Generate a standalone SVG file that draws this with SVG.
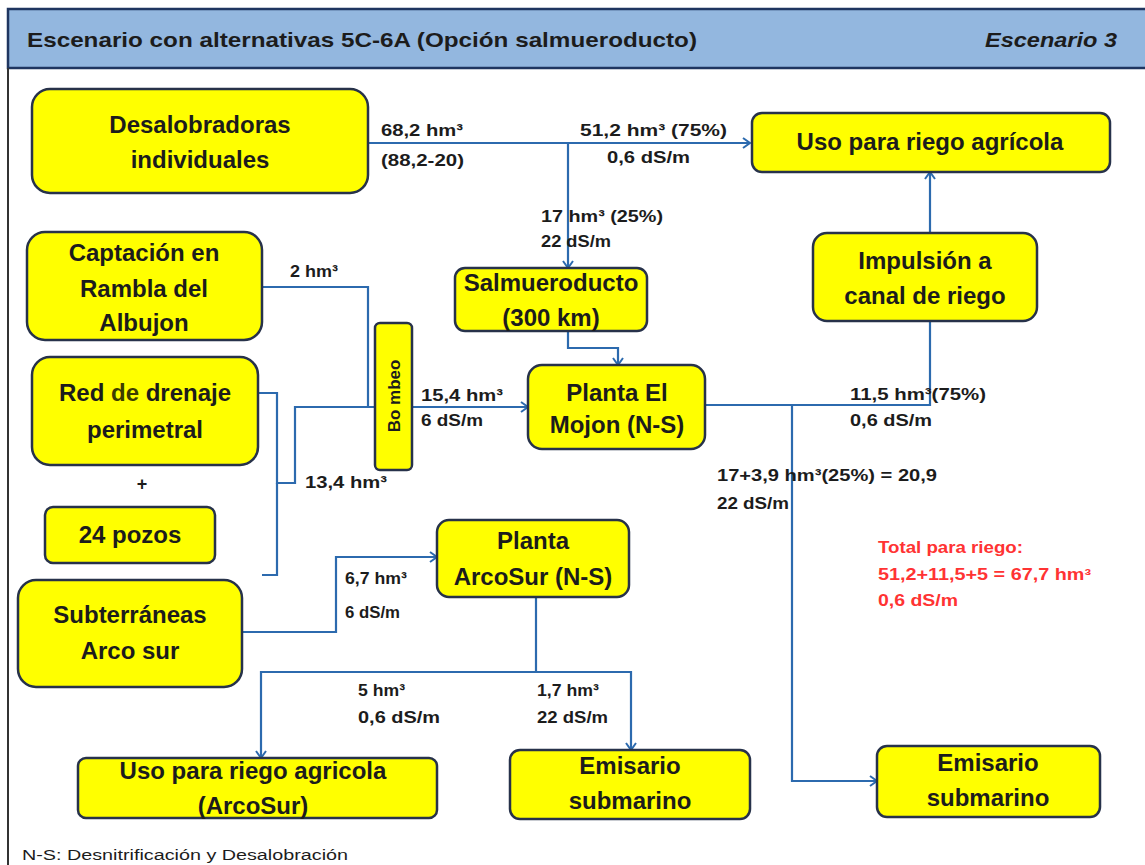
<svg xmlns="http://www.w3.org/2000/svg" width="1145" height="865" viewBox="0 0 1145 865">
<style>
.box{fill:#ffff00;stroke:#27324a;stroke-width:2.5}
.nt{font-family:"Liberation Sans",Arial,sans-serif;font-weight:bold;font-size:24px;fill:#1c1c1c;text-anchor:middle}
.lb{font-family:"Liberation Sans",Arial,sans-serif;font-weight:bold;font-size:17px;fill:#1c1c1c}
.red{font-family:"Liberation Sans",Arial,sans-serif;font-weight:bold;font-size:16px;fill:#ff3333}
.ln{fill:none;stroke:#2c6aae;stroke-width:2.2}
</style>
<defs>
<marker id="ah" markerWidth="12" markerHeight="12" refX="10" refY="6" orient="auto" markerUnits="userSpaceOnUse">
<path d="M3,1 L10,6 L3,11" fill="none" stroke="#2c6aae" stroke-width="2"/>
</marker>
</defs>
<rect x="0" y="0" width="1145" height="865" fill="#ffffff"/>
<g id="header">
<rect x="8" y="9" width="1150" height="59" fill="#93b7df" stroke="#1f3560" stroke-width="2.5"/>
<line x1="8" y1="68" x2="8" y2="865" stroke="#333" stroke-width="2"/>
<text x="27" y="47" font-family="'Liberation Sans',Arial,sans-serif" font-weight="bold" font-size="21" fill="#1c1c1c" textLength="670" lengthAdjust="spacingAndGlyphs">Escenario con alternativas 5C-6A (Opción salmueroducto)</text>
<text x="985" y="47" font-family="'Liberation Sans',Arial,sans-serif" font-weight="bold" font-style="italic" font-size="21" fill="#1c1c1c" textLength="132" lengthAdjust="spacingAndGlyphs">Escenario 3</text>
</g>
<g id="connectors">
<path class="ln" d="M368,143 H750" marker-end="url(#ah)"/>
<path class="ln" d="M568,143 V268" marker-end="url(#ah)"/>
<path class="ln" d="M262,287 H368 V407"/>
<path class="ln" d="M258,393 H277 V483 H295 V407 H375"/>
<path class="ln" d="M277,483 V575 H262"/>
<path class="ln" d="M412,407 H528" marker-end="url(#ah)"/>
<path class="ln" d="M568,331 V348 H618 V365" marker-end="url(#ah)"/>
<path class="ln" d="M705,405 H930 V321"/>
<path class="ln" d="M930,233 V172" marker-end="url(#ah)"/>
<path class="ln" d="M792,405 V781 H877" marker-end="url(#ah)"/>
<path class="ln" d="M242,632 H336 V557 H437" marker-end="url(#ah)"/>
<path class="ln" d="M536,597 V672"/>
<path class="ln" d="M536,672 H261 V758" marker-end="url(#ah)"/>
<path class="ln" d="M536,672 H631 V750" marker-end="url(#ah)"/>
</g>
<g id="labels">
<text class="lb" x="381" y="136" textLength="82" lengthAdjust="spacingAndGlyphs">68,2 hm³</text>
<text class="lb" x="381" y="166" textLength="83" lengthAdjust="spacingAndGlyphs">(88,2-20)</text>
<text class="lb" x="580" y="136" textLength="147" lengthAdjust="spacingAndGlyphs">51,2 hm³ (75%)</text>
<text class="lb" x="607" y="163" textLength="83" lengthAdjust="spacingAndGlyphs">0,6 dS/m</text>
<text class="lb" x="541" y="222" textLength="122" lengthAdjust="spacingAndGlyphs">17 hm³ (25%)</text>
<text class="lb" x="541" y="247" textLength="70" lengthAdjust="spacingAndGlyphs">22 dS/m</text>
<text class="lb" x="290" y="277" textLength="48" lengthAdjust="spacingAndGlyphs">2 hm³</text>
<text class="lb" x="421" y="401" textLength="82" lengthAdjust="spacingAndGlyphs">15,4 hm³</text>
<text class="lb" x="421" y="426" textLength="62" lengthAdjust="spacingAndGlyphs">6 dS/m</text>
<text class="lb" x="305" y="488" textLength="82" lengthAdjust="spacingAndGlyphs">13,4 hm³</text>
<text class="lb" x="850" y="400" textLength="136" lengthAdjust="spacingAndGlyphs">11,5 hm³(75%)</text>
<text class="lb" x="850" y="426" textLength="82" lengthAdjust="spacingAndGlyphs">0,6 dS/m</text>
<text class="lb" x="717" y="481" textLength="220" lengthAdjust="spacingAndGlyphs">17+3,9 hm³(25%) = 20,9</text>
<text class="lb" x="717" y="509" textLength="72" lengthAdjust="spacingAndGlyphs">22 dS/m</text>
<text class="lb" x="345" y="584" textLength="62" lengthAdjust="spacingAndGlyphs">6,7 hm³</text>
<text class="lb" x="345" y="618" textLength="55" lengthAdjust="spacingAndGlyphs">6 dS/m</text>
<text class="lb" x="358" y="696" textLength="47" lengthAdjust="spacingAndGlyphs">5 hm³</text>
<text class="lb" x="358" y="723" textLength="82" lengthAdjust="spacingAndGlyphs">0,6 dS/m</text>
<text class="lb" x="537" y="696" textLength="62" lengthAdjust="spacingAndGlyphs">1,7 hm³</text>
<text class="lb" x="537" y="723" textLength="71" lengthAdjust="spacingAndGlyphs">22 dS/m</text>
<text class="red" x="878" y="553" textLength="145" lengthAdjust="spacingAndGlyphs">Total  para riego:</text>
<text class="red" x="878" y="580" textLength="213" lengthAdjust="spacingAndGlyphs">51,2+11,5+5 = 67,7 hm³</text>
<text class="red" x="878" y="606" textLength="80" lengthAdjust="spacingAndGlyphs">0,6 dS/m</text>
<text x="142" y="490" font-family="'Liberation Sans',Arial,sans-serif" font-weight="bold" font-size="18" fill="#1c1c1c" text-anchor="middle">+</text>
<text x="22" y="860" font-family="'Liberation Sans',Arial,sans-serif" font-size="14" fill="#1c1c1c" textLength="326" lengthAdjust="spacingAndGlyphs">N-S: Desnitrificación y Desalobración</text>
</g>
<g id="n-desalobradoras">
<rect class="box" x="32" y="89" width="336" height="104" rx="18"/>
<text class="nt" x="200" y="133">Desalobradoras</text>
<text class="nt" x="200" y="168">individuales</text>
</g>
<g id="n-uso-riego">
<rect class="box" x="752" y="113" width="358" height="59" rx="10"/>
<text class="nt" x="930" y="150">Uso para riego agrícola</text>
</g>
<g id="n-captacion">
<rect class="box" x="27" y="232" width="235" height="108" rx="18"/>
<text class="nt" x="144" y="261">Captación  en</text>
<text class="nt" x="144" y="297">Rambla del</text>
<text class="nt" x="144" y="331">Albujon</text>
</g>
<g id="n-red-drenaje">
<rect class="box" x="32" y="357" width="226" height="108" rx="18"/>
<text class="nt" x="145" y="401">Red <tspan fill="#3d3d00">de</tspan> drenaje</text>
<text class="nt" x="145" y="438">perimetral</text>
</g>
<g id="n-pozos">
<rect class="box" x="45" y="507" width="170" height="56" rx="8"/>
<text class="nt" x="130" y="543">24 pozos</text>
</g>
<g id="n-subterraneas">
<rect class="box" x="18" y="580" width="224" height="107" rx="18"/>
<text class="nt" x="130" y="623">Subterráneas</text>
<text class="nt" x="130" y="659">Arco sur</text>
</g>
<g id="n-bombeo">
<rect class="box" x="375" y="323" width="37" height="147" rx="5"/>
<text x="0" y="0" transform="translate(400,396) rotate(-90)" font-family="'Liberation Sans',Arial,sans-serif" font-weight="bold" font-size="17" fill="#1c1c1c" text-anchor="middle">Bo mbeo</text>
</g>
<g id="n-salmueroducto">
<rect class="box" x="455" y="268" width="192" height="63" rx="10"/>
<text class="nt" x="551" y="291">Salmueroducto</text>
<text class="nt" x="551" y="326">(300 km)</text>
</g>
<g id="n-mojon">
<rect class="box" x="528" y="365" width="177" height="84" rx="14"/>
<text class="nt" x="617" y="401">Planta El</text>
<text class="nt" x="617" y="433">Mojon  (N-S)</text>
</g>
<g id="n-impulsion">
<rect class="box" x="813" y="233" width="224" height="88" rx="14"/>
<text class="nt" x="925" y="269">Impulsión  a</text>
<text class="nt" x="925" y="304">canal de riego</text>
</g>
<g id="n-arcosur">
<rect class="box" x="437" y="520" width="192" height="77" rx="12"/>
<text class="nt" x="533" y="549">Planta</text>
<text class="nt" x="533" y="585">ArcoSur  (N-S)</text>
</g>
<g id="n-uso-arcosur">
<rect class="box" x="78" y="758" width="359" height="60" rx="8"/>
<text class="nt" x="253" y="779">Uso para riego agricola</text>
<text class="nt" x="253" y="814">(ArcoSur)</text>
</g>
<g id="n-emisario-1">
<rect class="box" x="510" y="750" width="240" height="69" rx="10"/>
<text class="nt" x="630" y="774">Emisario</text>
<text class="nt" x="630" y="809">submarino</text>
</g>
<g id="n-emisario-2">
<rect class="box" x="877" y="746" width="223" height="71" rx="10"/>
<text class="nt" x="988" y="771">Emisario</text>
<text class="nt" x="988" y="806">submarino</text>
</g>
</svg>
